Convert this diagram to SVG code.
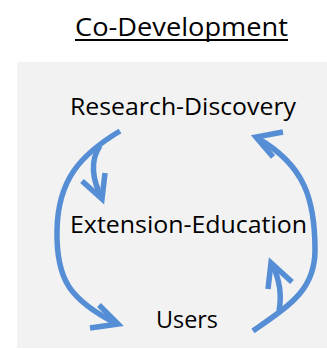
<svg xmlns="http://www.w3.org/2000/svg" width="327" height="350" viewBox="0 0 327 350">
<style>
.t{font-family:"Open Sans","Liberation Sans",sans-serif;fill:#000}
.c{fill:none;stroke:#558ED5;stroke-width:5.5;stroke-linejoin:miter}
</style>
<rect width="327" height="350" fill="#fff"/>
<rect x="17" y="62" width="310" height="286" fill="#f2f2f2"/>
<g id="title">
<text class="t" x="75" y="36" font-size="26" textLength="213" lengthAdjust="spacingAndGlyphs">Co-Development</text>
<rect x="75" y="39" width="213" height="2" fill="#000"/>
</g>
<g id="research">
<text class="t" x="70" y="115" font-size="24" textLength="226" lengthAdjust="spacingAndGlyphs">Research-Discovery</text>
</g>
<g id="extension">
<text class="t" x="70" y="233" font-size="24" textLength="237" lengthAdjust="spacingAndGlyphs">Extension-Education</text>
</g>
<g id="users">
<text class="t" x="156" y="328" font-size="24" textLength="62" lengthAdjust="spacingAndGlyphs">Users</text>
</g>
<g id="connectors">
<path class="c" d="M120,131 C80,155 58,180 57,230 C56,280 70,300 117,324"/>
<path class="c" d="M99,305 L118,324 L90,328"/>
<path class="c" d="M100,146 C90,160 92,180 102,198"/>
<path class="c" d="M82,181 L102,199 L105,173"/>
<path class="c" d="M253,331 C290,305 315,290 315,250 C315,200 305,165 257,138"/>
<path class="c" d="M283,132 L256,137 L273,157"/>
<path class="c" d="M279,311 C282,295 280,280 272,264"/>
<path class="c" d="M268,289 L271,263 L292,282"/>
</g>
</svg>
